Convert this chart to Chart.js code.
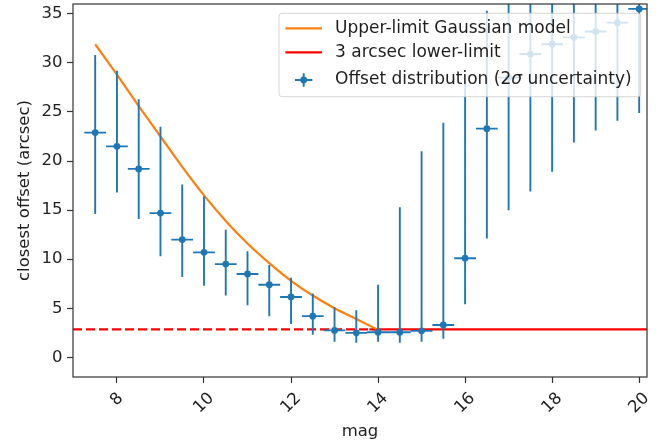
<!DOCTYPE html>
<html>
<head>
<meta charset="utf-8">
<script src="https://cdn.jsdelivr.net/npm/chart.js@4.4.1/dist/chart.umd.min.js"></script>
<style>
  html, body { margin: 0; padding: 0; background: #fff; }
  #chart { display: block; }
</style>
</head>
<body>
<canvas id="chart" width="664" height="445"></canvas>
<script>
// binned offsets (arcsec) per magnitude, with 2 sigma range
const mags = [7.5, 8, 8.5, 9, 9.5, 10, 10.5, 11, 11.5, 12, 12.5, 13, 13.5, 14, 14.5, 15, 15.5, 16, 16.5, 17, 17.5, 18, 18.5, 19, 19.5, 20];
const offsets = [22.9, 21.5, 19.2, 14.7, 12.0, 10.7, 9.5, 8.5, 7.4, 6.15, 4.2, 2.75, 2.5, 2.56, 2.56, 2.7, 3.3, 10.1, 23.3, 28.5, 30.9, 31.9, 32.6, 33.2, 34.1, 35.5];
const offsetLow = [14.6, 16.8, 14.1, 10.3, 8.2, 7.3, 6.3, 5.3, 4.2, 3.4, 2.3, 1.6, 1.5, 1.6, 1.5, 1.6, 1.9, 5.4, 12.1, 15.0, 16.9, 18.9, 21.9, 23.1, 24.1, 24.9];
const offsetHigh = [30.8, 29.2, 26.3, 23.5, 17.6, 16.4, 13.0, 10.8, 9.4, 8.1, 6.5, 5.1, 4.8, 7.4, 15.3, 21.0, 23.9, 28.0, 35.3, 41, 44, 45, 44, 46, 45, 47];
const magHalfBin = 0.25;

// upper-limit gaussian model
const modelMags = [7.5, 8, 8.5, 9, 9.5, 10, 10.5, 11, 11.5, 12, 12.5, 13, 13.5, 14];
const modelOffsets = [31.9, 28.8, 25.6, 22.5, 19.4, 16.5, 13.9, 11.6, 9.6, 7.8, 6.3, 5.0, 3.9, 2.8];

// 3 arcsec lower limit
const lowerLimit = 2.86;
const dashedSpan = [6.99, 14.0];
const solidSpan = [13.8, 20.18];

const xTicks = [8, 10, 12, 14, 16, 18, 20];
const yTicks = [0, 5, 10, 15, 20, 25, 30, 35];

const legendLabels = ['Upper-limit Gaussian model', '3 arcsec lower-limit', 'Offset distribution (2σ uncertainty)'];

const BLUE = '#1f77b4', ORANGE = '#ff7f0e', RED = '#ff0000', TEXT = '#1e1e1e';
const FS = 16.5;
const LFS = 17;
const FONT = `${FS}px "DejaVu Sans"`;
const LFONT = `${LFS}px "DejaVu Sans"`;
const LFONT_IT = `italic ${LFS}px "DejaVu Sans"`;

Chart.defaults.font.family = '"DejaVu Sans"';
Chart.defaults.font.size = FS;
Chart.defaults.color = TEXT;

const vBars = [];
const hBars = [];
mags.forEach((m, i) => {
  vBars.push({ x: m, y: offsetLow[i] }, { x: m, y: offsetHigh[i] }, { x: m, y: null });
  hBars.push({ x: m - magHalfBin, y: offsets[i] }, { x: m + magHalfBin, y: offsets[i] }, { x: m, y: null });
});

// text with an italic sigma, returns width
function richText(ctx, text, x, y, draw) {
  let w = 0;
  text.split(/(σ)/).forEach(part => {
    if (!part) return;
    ctx.font = part === 'σ' ? LFONT_IT : LFONT;
    if (draw) ctx.fillText(part, x + w, y);
    w += ctx.measureText(part).width;
  });
  return w;
}

const legendPlugin = {
  id: 'insideLegend',
  afterDatasetsDraw(chart) {
    const { ctx, chartArea } = chart;
    ctx.save();
    const textW = Math.max(...legendLabels.map(t => richText(ctx, t, 0, 0, false)));
    const right = chartArea.right - 6.3;
    const top = chartArea.top + 9.3;
    const width = 6.3 + 36.7 + 13 + textW + 9;
    const height = 83.4;
    const left = right - width;
    const r = 3;

    ctx.beginPath();
    ctx.moveTo(left + r, top);
    ctx.lineTo(right - r, top);
    ctx.arcTo(right, top, right, top + r, r);
    ctx.lineTo(right, top + height - r);
    ctx.arcTo(right, top + height, right - r, top + height, r);
    ctx.lineTo(left + r, top + height);
    ctx.arcTo(left, top + height, left, top + height - r, r);
    ctx.lineTo(left, top + r);
    ctx.arcTo(left, top, left + r, top, r);
    ctx.closePath();
    ctx.fillStyle = 'rgba(255,255,255,0.8)';
    ctx.fill();
    ctx.strokeStyle = 'rgba(204,204,204,0.8)';
    ctx.lineWidth = 1;
    ctx.stroke();

    const rows = [top + 15, top + 39, top + 66.7];
    const hx0 = left + 6.3, hx1 = left + 43, tx = left + 56;

    ctx.lineWidth = 2.2;
    [ORANGE, RED].forEach((c, i) => {
      ctx.strokeStyle = c;
      ctx.beginPath();
      ctx.moveTo(hx0, rows[i]);
      ctx.lineTo(hx1, rows[i]);
      ctx.stroke();
    });
    const cx = (hx0 + hx1) / 2, cy = rows[2];
    ctx.strokeStyle = BLUE;
    ctx.lineWidth = 1.9;
    ctx.beginPath();
    ctx.moveTo(cx - 8.7, cy); ctx.lineTo(cx + 8.7, cy);
    ctx.moveTo(cx, cy - 6.7); ctx.lineTo(cx, cy + 6.7);
    ctx.stroke();
    ctx.fillStyle = BLUE;
    ctx.beginPath();
    ctx.arc(cx, cy, 3.4, 0, Math.PI * 2);
    ctx.fill();

    ctx.fillStyle = TEXT;
    ctx.textAlign = 'left';
    ctx.textBaseline = 'middle';
    legendLabels.forEach((t, i) => richText(ctx, t, tx, rows[i], true));
    ctx.restore();
  }
};

const framePlugin = {
  id: 'frame',
  afterDraw(chart) {
    const { ctx, chartArea: a, scales: { x } } = chart;
    ctx.save();
    ctx.strokeStyle = '#333';
    ctx.lineWidth = 1.2;
    ctx.strokeRect(a.left, a.top, a.right - a.left, a.bottom - a.top);

    // rotated x tick labels, centred under their ticks
    ctx.font = FONT;
    ctx.fillStyle = TEXT;
    ctx.textAlign = 'center';
    ctx.textBaseline = 'middle';
    xTicks.forEach(v => {
      const label = String(v);
      const w = ctx.measureText(label).width;
      ctx.save();
      ctx.translate(x.getPixelForValue(v), a.bottom + 14.5 + (w + 12) / (2 * Math.SQRT2));
      ctx.rotate(-Math.PI / 4);
      ctx.fillText(label, 0, 0);
      ctx.restore();
    });
    ctx.restore();
  }
};

const tickGrid = { drawOnChartArea: false, drawTicks: true, tickLength: 6, tickColor: '#333', tickWidth: 1.2 };

new Chart(document.getElementById('chart'), {
  type: 'line',
  data: {
    datasets: [
      {
        label: 'errorbar-y',
        data: vBars,
        borderColor: BLUE,
        borderWidth: 1.9,
        pointRadius: 0,
        spanGaps: false,
        order: 0
      },
      {
        label: 'errorbar-x',
        data: hBars,
        borderColor: BLUE,
        borderWidth: 1.9,
        pointRadius: 0,
        spanGaps: false,
        order: 0
      },
      {
        label: legendLabels[2],
        data: mags.map((m, i) => ({ x: m, y: offsets[i] })),
        showLine: false,
        pointRadius: 3.4,
        pointBorderWidth: 0,
        pointBackgroundColor: BLUE,
        order: 0
      },
      {
        label: legendLabels[0],
        data: modelMags.map((m, i) => ({ x: m, y: modelOffsets[i] })),
        borderColor: ORANGE,
        borderWidth: 2.2,
        pointRadius: 0,
        cubicInterpolationMode: 'monotone',
        order: 1
      },
      {
        label: legendLabels[1],
        data: solidSpan.map(m => ({ x: m, y: lowerLimit })),
        borderColor: RED,
        borderWidth: 2.2,
        pointRadius: 0,
        order: 2
      },
      {
        label: 'lower-limit-extrapolated',
        data: dashedSpan.map(m => ({ x: m, y: lowerLimit })),
        borderColor: RED,
        borderWidth: 2.2,
        borderDash: [9, 4],
        pointRadius: 0,
        order: 2
      }
    ]
  },
  options: {
    responsive: false,
    animation: false,
    events: [],
    layout: { padding: { top: 4, right: 17, left: 0, bottom: 0 }, autoPadding: false },
    plugins: { legend: { display: false }, tooltip: { enabled: false } },
    scales: {
      x: {
        type: 'linear',
        min: 6.99,
        max: 20.18,
        afterBuildTicks: s => { s.ticks = xTicks.map(v => ({ value: v })); },
        afterFit: s => { s.height = 68; s.paddingLeft = 0; s.paddingRight = 0; },
        ticks: { display: false },
        grid: tickGrid,
        border: { display: false },
        title: { display: true, text: 'mag', color: TEXT, font: { size: FS }, padding: { top: 0, bottom: 3 } }
      },
      y: {
        type: 'linear',
        min: -2,
        max: 36,
        afterBuildTicks: s => { s.ticks = yTicks.map(v => ({ value: v })); },
        afterFit: s => { s.width = 73; s.paddingTop = 0; s.paddingBottom = 0; },
        ticks: { color: TEXT, padding: 4.5, font: { size: FS } },
        grid: tickGrid,
        border: { display: false },
        title: { display: true, text: 'closest offset (arcsec)', color: TEXT, font: { size: FS }, padding: { top: 14.6, bottom: 0 } }
      }
    }
  },
  plugins: [legendPlugin, framePlugin]
});
</script>
</body>
</html>
